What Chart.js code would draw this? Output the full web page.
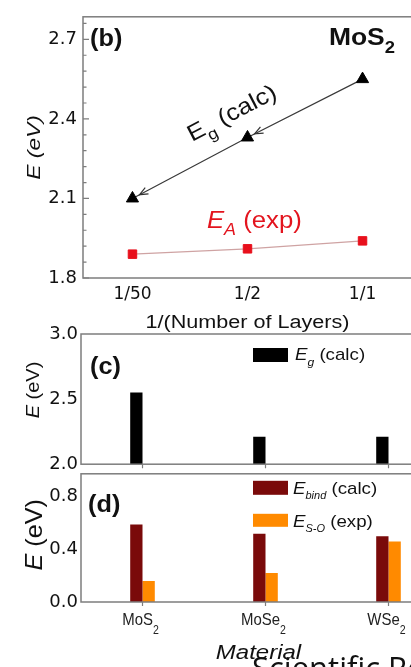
<!DOCTYPE html>
<html>
<head>
<meta charset="utf-8">
<script src="https://cdn.jsdelivr.net/npm/chart.js@4"></script>
<style>
html, body { margin: 0; padding: 0; background: #fff; }
body { position: relative; width: 411px; height: 667px; overflow: hidden; }
canvas { position: absolute; left: 0; }
#journal { position: absolute; left: 252px; top: 652px; font: 31px "Open Sans"; line-height: 31px; color: #111; white-space: nowrap; }
</style>
</head>
<body>
<canvas id="chartB" width="420" height="335" style="top:0"></canvas>
<canvas id="chartC" width="460" height="159" style="top:319px"></canvas>
<canvas id="chartD" width="460" height="207" style="top:460px"></canvas>
<div id="journal">Scientific Reports</div>
<script>
// (b) band gap vs inverse layer count, MoS2
var layerLabels = ["1/50", "1/2", "1/1"];
var layerPos = [0, 1, 2];
var egCalc = [2.10, 2.33, 2.55];
var eaExp = [1.89, 1.91, 1.94];
var bTicks = [1.8, 2.1, 2.4, 2.7];

// (c) and (d) per material
var materials = ["MoS2", "MoSe2", "WSe2"];
var egBars = [2.55, 2.21, 2.21];
var ebindCalc = [0.59, 0.52, 0.50];
var esoExp = [0.16, 0.22, 0.46];
var cTicks = [2.0, 2.5, 3.0];
var dTicks = [0.0, 0.4, 0.8];

var AXIS = '#7d7d7d';
var TICK_FONT = { family: '"DejaVu Sans"', size: 18 };

// text made of pieces: {text, italic, bold, sub, color}; y is the middle of the capitals
function drawRich(ctx, pieces, x, y, opt) {
  var size = opt.size, fam = opt.family || '"Liberation Sans"';
  var subSize = Math.round(size * (opt.subScale || 0.65));
  function fontOf(p) {
    return (p.italic ? 'italic ' : '') + (p.bold || opt.bold ? 'bold ' : '') + (p.sub ? subSize : size) + 'px ' + fam;
  }
  ctx.save();
  ctx.translate(x, y);
  if (opt.rotate) ctx.rotate(opt.rotate);
  ctx.scale(opt.stretch || 1, 1);
  ctx.textBaseline = 'alphabetic';
  ctx.textAlign = 'left';
  var total = 0;
  pieces.forEach(function (p) { ctx.font = fontOf(p); p.w = ctx.measureText(p.text).width; total += p.w; });
  var cx = opt.align === 'center' ? -total / 2 : opt.align === 'right' ? -total : 0;
  var base = size * 0.36;
  pieces.forEach(function (p) {
    ctx.font = fontOf(p);
    ctx.fillStyle = p.color || opt.color || '#111';
    ctx.fillText(p.text, cx, base + (p.sub ? size * (opt.subDrop || 0.3) : 0));
    cx += p.w;
  });
  ctx.restore();
}

function subDigits(name) {
  var m = name.match(/^(.*?)(\d+)$/);
  return m ? [{ text: m[1] }, { text: m[2], sub: true }] : [{ text: name }];
}

function fixWidth(w) { return function (s) { s.width = w; }; }
function fixHeight(h) { return function (s) { s.height = h; }; }
function setTicks(list) { return function (s) { s.ticks = list.map(function (v) { return { value: v }; }); }; }

// plot frame plus the small tick marks
var framePlugin = {
  id: 'frame',
  afterDraw: function (chart, args, opts) {
    var a = chart.chartArea, ctx = chart.ctx;
    ctx.save();
    ctx.strokeStyle = AXIS;
    ctx.lineWidth = 1.5;
    ctx.strokeRect(a.left, a.top, a.right - a.left, a.bottom - a.top);
    ctx.lineWidth = 1.2;
    ctx.beginPath();
    if (opts.yIn) {
      var ys = chart.scales.y, vals = ys.ticks.map(function (t) { return t.value; });
      vals.forEach(function (v, i) {
        var py = ys.getPixelForValue(v);
        ctx.moveTo(a.left, py); ctx.lineTo(a.left + 6, py);
        if (opts.minor && i < vals.length - 1) {
          for (var k = 1; k < opts.minor; k++) {
            var my = ys.getPixelForValue(v + (vals[i + 1] - v) * k / opts.minor);
            ctx.moveTo(a.left, my); ctx.lineTo(a.left + 3.5, my);
          }
        }
      });
      if (opts.minor) {
        var step = (vals[1] - vals[0]) / opts.minor, last = vals[vals.length - 1];
        for (var v = last + step; v < ys.max; v += step) {
          var ty = ys.getPixelForValue(v);
          ctx.moveTo(a.left, ty); ctx.lineTo(a.left + 3.5, ty);
        }
      }
    }
    if (opts.xDown) {
      var xs = chart.scales.x;
      xs.ticks.forEach(function (t, i) {
        var px = xs.getPixelForTick(i);
        ctx.moveTo(px, a.bottom); ctx.lineTo(px, a.bottom + 4);
      });
    }
    ctx.stroke();
    ctx.restore();
  }
};

// ---------- (b) ----------
var arrowPlugin = {
  id: 'arrows',
  afterDatasetsDraw: function (chart) {
    var pts = chart.getDatasetMeta(0).data, ctx = chart.ctx;
    ctx.save();
    ctx.strokeStyle = '#333';
    ctx.lineWidth = 1.2;
    for (var i = 0; i < pts.length - 1; i++) {
      var p = pts[i], q = pts[i + 1];
      var ang = Math.atan2(p.y - q.y, p.x - q.x);
      var tx = p.x - Math.cos(ang) * 8, ty = p.y - Math.sin(ang) * 8;
      ctx.beginPath();
      ctx.moveTo(tx - Math.cos(ang - 0.4) * 9, ty - Math.sin(ang - 0.4) * 9);
      ctx.lineTo(tx, ty);
      ctx.lineTo(tx - Math.cos(ang + 0.4) * 9, ty - Math.sin(ang + 0.4) * 9);
      ctx.stroke();
    }
    ctx.restore();
  }
};

var textB = {
  id: 'textB',
  afterDraw: function (chart) {
    var ctx = chart.ctx, a = chart.chartArea, xs = chart.scales.x, ys = chart.scales.y;
    drawRich(ctx, [{ text: '(b)' }], a.left + 7, a.top + 21, { size: 23, bold: true, stretch: 1.1 });
    drawRich(ctx, [{ text: 'MoS' }, { text: '2', sub: true }], a.right - 17, a.top + 20,
      { size: 23, bold: true, stretch: 1.15, align: 'right', subScale: 0.7, subDrop: 0.35 });
    var p0 = chart.getDatasetMeta(0).data[0], p2 = chart.getDatasetMeta(0).data[2];
    var slope = Math.atan2(p2.y - p0.y, p2.x - p0.x);
    drawRich(ctx, [{ text: 'E' }, { text: 'g', sub: true }, { text: ' (calc)' }],
      xs.getPixelForValue(0.86), ys.getPixelForValue(2.425),
      { size: 23, stretch: 1.12, align: 'center', rotate: slope, subScale: 0.7, subDrop: 0.32 });
    drawRich(ctx, [{ text: 'E', italic: true }, { text: 'A', italic: true, sub: true }, { text: ' (exp)' }],
      xs.getPixelForValue(1.06), ys.getPixelForValue(2.02),
      { size: 23, stretch: 1.12, align: 'center', color: '#e3141e', subScale: 0.7, subDrop: 0.32 });
    drawRich(ctx, [{ text: 'E (eV)', italic: true }], 33, (a.top + a.bottom) / 2,
      { size: 19, stretch: 1.2, align: 'center', rotate: -Math.PI / 2 });
    drawRich(ctx, [{ text: '1/(Number of Layers)' }], xs.getPixelForValue(1), 322,
      { size: 18, stretch: 1.2, align: 'center' });
  }
};

new Chart(document.getElementById('chartB'), {
  type: 'scatter',
  data: {
    datasets: [
      {
        label: 'Eg (calc)',
        data: layerPos.map(function (x, i) { return { x: x, y: egCalc[i] }; }),
        showLine: true,
        borderColor: '#3a3a3a',
        borderWidth: 1.2,
        pointStyle: 'triangle',
        pointRadius: 7,
        pointBackgroundColor: '#000',
        pointBorderColor: '#000',
        pointBorderWidth: 1
      },
      {
        label: 'EA (exp)',
        data: layerPos.map(function (x, i) { return { x: x, y: eaExp[i] }; }),
        showLine: true,
        borderColor: '#cfa3a3',
        borderWidth: 1.2,
        pointStyle: 'rect',
        pointRadius: 6,
        pointBackgroundColor: '#e8101c',
        pointBorderColor: '#e8101c',
        pointBorderWidth: 1
      }
    ]
  },
  options: {
    responsive: false,
    animation: false,
    layout: { padding: { top: 10, right: 1, left: 0, bottom: 0 } },
    plugins: { legend: { display: false }, tooltip: { enabled: false }, frame: { yIn: true, minor: 5 } },
    scales: {
      x: {
        type: 'linear', min: -0.43, max: 2.43,
        afterBuildTicks: setTicks(layerPos),
        afterFit: fixHeight(57),
        grid: { display: false, drawTicks: false },
        border: { display: false },
        ticks: { font: { family: '"DejaVu Sans"', size: 17 }, color: '#111', padding: 6,
          callback: function (v) { return layerLabels[v]; } }
      },
      y: {
        min: 1.8, max: 2.785,
        afterBuildTicks: setTicks(bTicks),
        afterFit: fixWidth(83),
        grid: { display: false, drawTicks: false },
        border: { display: false },
        ticks: { font: TICK_FONT, color: '#111', padding: 6,
          callback: function (v) { return v.toFixed(1); } }
      }
    }
  },
  plugins: [framePlugin, arrowPlugin, textB]
});

// ---------- (c) ----------
var textC = {
  id: 'textC',
  afterDraw: function (chart) {
    var ctx = chart.ctx, a = chart.chartArea;
    drawRich(ctx, [{ text: '(c)' }], a.left + 9, a.top + 32, { size: 23, bold: true, stretch: 1.1 });
    var bx = a.left + 172, by = a.top + 14;
    ctx.fillStyle = chart.data.datasets[0].backgroundColor;
    ctx.fillRect(bx, by, 35, 14);
    drawRich(ctx, [{ text: 'E', italic: true }, { text: 'g', italic: true, sub: true }, { text: ' (calc)' }],
      bx + 42, by + 6, { size: 17, stretch: 1.1, subScale: 0.65, subDrop: 0.35 });
    drawRich(ctx, [{ text: 'E', italic: true }, { text: ' (eV)' }], 32, a.top + 56,
      { size: 19, stretch: 1.05, align: 'center', rotate: -Math.PI / 2 });
  }
};

new Chart(document.getElementById('chartC'), {
  type: 'bar',
  data: {
    labels: materials,
    datasets: [
      { label: 'Eg (calc)', data: egBars, backgroundColor: '#000' },
      // empty slot, keeps the black bars over the E_bind bars below
      { label: '', data: [null, null, null], backgroundColor: 'rgba(0,0,0,0)' }
    ]
  },
  options: {
    responsive: false,
    animation: false,
    categoryPercentage: 0.2,
    barPercentage: 1,
    layout: { padding: { top: 15, right: 10, left: 0, bottom: 10 } },
    plugins: { legend: { display: false }, tooltip: { enabled: false }, frame: { xDown: true } },
    scales: {
      x: { display: false, offset: true },
      y: {
        min: 2.0, max: 3.0,
        afterBuildTicks: setTicks(cTicks),
        afterFit: fixWidth(81),
        grid: { display: false, drawTicks: false },
        border: { display: false },
        ticks: { font: TICK_FONT, color: '#111', padding: 3,
          callback: function (v) { return v.toFixed(1); } }
      }
    }
  },
  plugins: [framePlugin, textC]
});

// ---------- (d) ----------
var textD = {
  id: 'textD',
  afterDraw: function (chart) {
    var ctx = chart.ctx, a = chart.chartArea, xs = chart.scales.x, ds = chart.data.datasets;
    drawRich(ctx, [{ text: '(d)' }], a.left + 7, a.top + 30, { size: 23, bold: true, stretch: 1.1 });
    var bx = a.left + 172;
    ctx.fillStyle = ds[0].backgroundColor;
    ctx.fillRect(bx, a.top + 7, 35, 14);
    drawRich(ctx, [{ text: 'E', italic: true }, { text: 'bind', italic: true, sub: true }, { text: ' (calc)' }],
      bx + 40, a.top + 14, { size: 17, stretch: 1.1, subScale: 0.6, subDrop: 0.3 });
    ctx.fillStyle = ds[1].backgroundColor;
    ctx.fillRect(bx, a.top + 40, 35, 13);
    drawRich(ctx, [{ text: 'E', italic: true }, { text: 'S-O', italic: true, sub: true }, { text: ' (exp)' }],
      bx + 40, a.top + 47, { size: 17, stretch: 1.1, subScale: 0.6, subDrop: 0.3 });
    materials.forEach(function (m, i) {
      drawRich(ctx, subDigits(m), xs.getPixelForTick(i) - 2, a.bottom + 17,
        { size: 17, stretch: 0.88, align: 'center', subScale: 0.7, subDrop: 0.55, color: '#222' });
    });
    drawRich(ctx, [{ text: 'Material', italic: true }], xs.getPixelForTick(1) - 7, a.bottom + 50,
      { size: 20, stretch: 1.2, align: 'center' });
    drawRich(ctx, [{ text: 'E', italic: true }, { text: ' (eV)' }], 33, a.top + 61,
      { size: 24, stretch: 1.05, align: 'center', rotate: -Math.PI / 2 });
  }
};

new Chart(document.getElementById('chartD'), {
  type: 'bar',
  data: {
    labels: materials,
    datasets: [
      { label: 'Ebind (calc)', data: ebindCalc, backgroundColor: '#7a0a0a' },
      { label: 'ES-O (exp)', data: esoExp, backgroundColor: '#ff8a00' }
    ]
  },
  options: {
    responsive: false,
    animation: false,
    categoryPercentage: 0.2,
    barPercentage: 1,
    layout: { padding: { top: 8, right: 10, left: 0, bottom: 0 } },
    plugins: { legend: { display: false }, tooltip: { enabled: false }, frame: { xDown: true } },
    scales: {
      x: {
        offset: true,
        afterFit: fixHeight(65),
        grid: { display: false, drawTicks: false },
        border: { display: false },
        ticks: { display: false }
      },
      y: {
        min: 0, max: 0.975,
        afterBuildTicks: setTicks(dTicks),
        afterFit: fixWidth(81),
        grid: { display: false, drawTicks: false },
        border: { display: false },
        ticks: { font: TICK_FONT, color: '#111', padding: 3,
          callback: function (v) { return v.toFixed(1); } }
      }
    }
  },
  plugins: [framePlugin, textD]
});
</script>
</body>
</html>
